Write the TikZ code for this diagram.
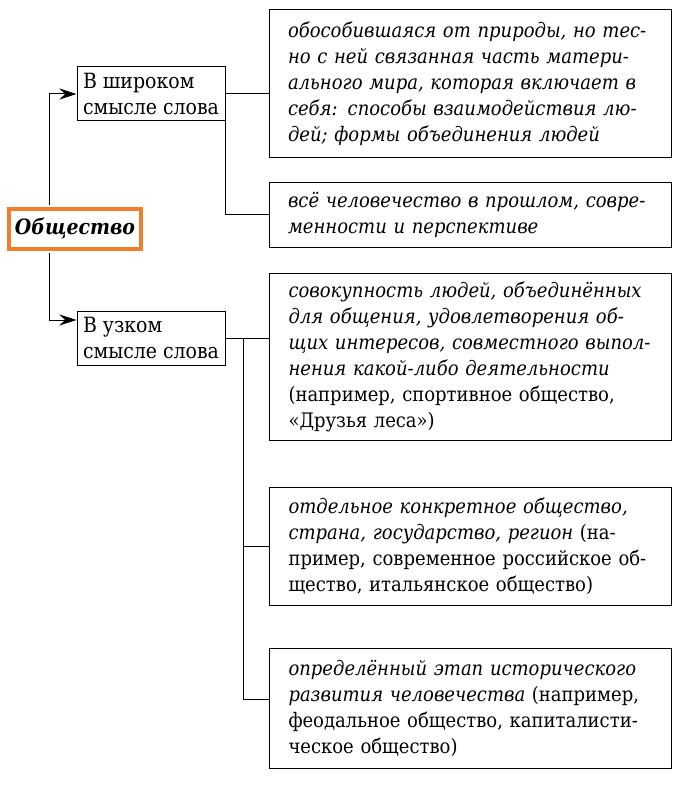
\documentclass[tikz,border=0pt]{standalone}
\usepackage{fontspec}
\setmainfont{DejaVu Serif Condensed}
\usetikzlibrary{arrows.meta}
\definecolor{frameorange}{HTML}{F07F2C}
\newcommand{\fullline}[1]{\hbox to 182pt{#1}}
\newcommand{\lastline}[1]{\hbox{#1}}

\begin{document}
\begin{tikzpicture}[x=0.5pt, y=-0.5pt,
		sense/.style={draw, line width=0.5pt, inner sep=0pt, minimum width=74pt, minimum height=27pt, align=left, font=\fontsize{10.5}{13}\selectfont},
		defbox/.style={draw, line width=0.5pt, inner sep=0pt, minimum width=201pt, text width=182pt, font=\fontsize{10}{13}\selectfont\itshape},
		link/.style={line width=0.5pt},
		arrow/.style={line width=0.5pt, -{Stealth[length=8.5pt, width=5.5pt]}}]
		%%%%% START %%%%%
		
		\useasboundingbox (0, 0) rectangle (679, 786);
		
		\node[draw=frameorange, line width=2pt, minimum width=66pt, minimum height=20pt, inner sep=0pt, font=\fontsize{10.5}{13}\selectfont\bfseries\itshape] (society) at (75, 229) {Общество};
		\coordinate (trunk) at (49, 229);
		
		\node[sense] (broad) at (151, 94) {В широком\\смысле слова};
		\node[sense] (narrow) at (151, 338) {В узком\\смысле слова};
		
		\node[defbox, minimum height=74pt] (wideA) at (470, 84) {\vbox{\fullline{обособившаяся от природы, но тес-}\fullline{но с ней связанная часть матери-}\fullline{ального мира, которая включает в}\fullline{себя: способы взаимодействия лю-}\lastline{дей; формы объединения людей}}};
		\node[defbox, minimum height=32pt] (wideB) at (470, 215) {\vbox{\fullline{всё человечество в прошлом, совре-}\lastline{менности и перспективе}}};
		
		\node[defbox, minimum height=83.5pt] (groupC) at (470.5, 356.5) {\vbox{\fullline{совокупность людей, объединённых}\fullline{для общения, удовлетворения об-}\fullline{щих интересов, совместного выпол-}\fullline{нения какой-либо деятельности}\fullline{\upshape(например, спортивное общество,}\lastline{\upshape«Друзья леса»)}}};
		\node[defbox, minimum height=59pt] (countryD) at (470.5, 546) {\vbox{\fullline{отдельное конкретное общество,}\fullline{страна, государство, регион \upshape(на-}\fullline{\upshape пример, современное российское об-}\lastline{\upshape щество, итальянское общество)}}};
		\node[defbox, minimum height=60pt] (stageE) at (470.5, 708) {\vbox{\fullline{определённый этап исторического}\fullline{развития человечества \upshape(например,}\fullline{\upshape феодальное общество, капиталисти-}\lastline{\upshape ческое общество)}}};
		
		\draw[arrow, shorten <=1pt] (society.north -| trunk) |- (broad.west);
		\draw[arrow, shorten <=1pt] (society.south -| trunk) |- ([yshift=9pt]narrow.west);
		
		\draw[link] (broad.east) -- (broad.east -| wideA.west);
		\draw[link] (broad.south east) |- (wideB.west);
		
		\draw[link] (narrow.east) -- (narrow.east -| groupC.west);
		\coordinate (nbus) at (243, 338);
		\draw[link] (nbus) |- (countryD.west);
		\draw[link] (nbus) |- ([yshift=4.5pt]stageE.west);
		
		%%%%% END %%%%%
	\end{tikzpicture}
\end{document}
